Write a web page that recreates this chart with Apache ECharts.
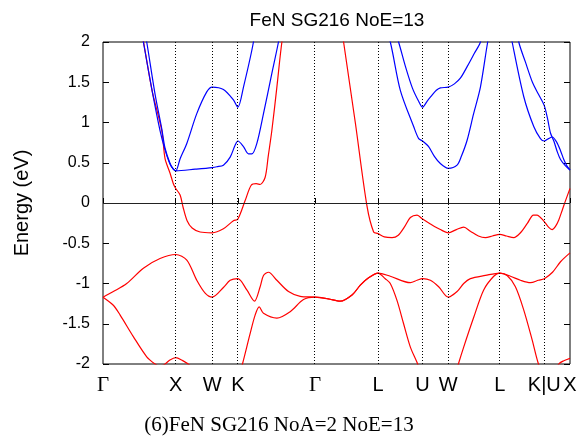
<!DOCTYPE html>
<html>
<head>
<meta charset="utf-8">
<script src="https://cdn.jsdelivr.net/npm/echarts@6/dist/echarts.min.js"></script>
<style>
  html, body { margin: 0; padding: 0; background: #fff; }
  #chart { width: 580px; height: 438px; }
</style>
</head>
<body>
<div id="chart"></div>
<script>
// high-symmetry points along the k-path
var kPos = [0, 1, 1.5, 1.8536, 2.9142, 3.7802, 4.3926, 4.7462, 5.4533, 6.0657, 6.4193];
var kLabels = ['Γ', 'X', 'W', 'K', 'Γ', 'L', 'U', 'W', 'L', 'K|U', 'X'];
var yTicks = [-2, -1.5, -1, -0.5, 0, 0.5, 1, 1.5, 2];

// bands, [k, E(eV)]
var band1 = [[0,-1.17],[0.142,-1.27],[0.234,-1.39],[0.417,-1.66],[0.601,-1.91],[0.716,-2.0],[0.78,-2.03],[0.853,-2.0],[0.92,-1.95],[1,-1.92],[1.08,-1.95],[1.197,-2.02],[1.335,-2.2],[1.5,-2.28],[1.748,-2.3],[1.8536,-2.2],[1.917,-2.0],[2.023,-1.62],[2.092,-1.39],[2.147,-1.29],[2.206,-1.37],[2.39,-1.43],[2.573,-1.35],[2.756,-1.2],[2.9142,-1.17],
  [3.096,-1.19],[3.261,-1.22],[3.427,-1.14],[3.537,-1.02],[3.651,-0.93],[3.7802,-0.87],[3.88,-0.94],[3.949,-1.0],[4.041,-1.21],[4.132,-1.5],[4.225,-1.79],[4.325,-2.0],[4.3926,-2.2],[4.5,-2.3],[4.7462,-2.35],[4.82,-2.2],[4.885,-2.0],[4.958,-1.79],[5.096,-1.42],[5.233,-1.08],[5.371,-0.91],[5.4533,-0.87],[5.555,-0.9],[5.669,-1.04],[5.784,-1.33],[5.899,-1.7],[5.986,-2.0],[6.0657,-2.15],[6.16,-2.18],[6.265,-2.0],[6.334,-1.96],[6.4193,-1.93]];
var band2 = [[0,-1.17],[0.142,-1.1],[0.326,-1.0],[0.555,-0.81],[0.784,-0.69],[1,-0.64],[1.152,-0.71],[1.289,-0.96],[1.404,-1.12],[1.5,-1.17],[1.655,-1.05],[1.748,-0.96],[1.8536,-0.94],[1.977,-1.08],[2.082,-1.22],[2.16,-1.04],[2.206,-0.9],[2.275,-0.86],[2.39,-0.96],[2.55,-1.1],[2.711,-1.16],[2.9142,-1.17],
  [3.096,-1.19],[3.261,-1.22],[3.427,-1.14],[3.537,-1.02],[3.651,-0.93],[3.7802,-0.87],[3.949,-0.91],[4.225,-0.99],[4.317,-0.96],[4.3926,-0.94],[4.5,-0.96],[4.614,-1.04],[4.7462,-1.17],[4.867,-1.1],[4.958,-1.0],[5.05,-0.94],[5.257,-0.9],[5.4533,-0.87],[5.601,-0.91],[5.738,-0.96],[5.876,-0.99],[5.986,-0.96],[6.0657,-0.94],[6.179,-0.86],[6.289,-0.73],[6.4193,-0.62]];
var band3 = [[0,4.2],[0.303,3.2],[0.557,2.0],[0.674,1.4],[0.808,0.9],[0.853,0.55],[0.922,0.37],[0.967,0.24],[1,0.18],[1.06,0.1],[1.1,-0.05],[1.156,-0.22],[1.225,-0.31],[1.335,-0.36],[1.5,-0.37],[1.655,-0.32],[1.793,-0.22],[1.8536,-0.2],[1.954,0.03],[2.037,0.22],[2.105,0.24],[2.16,0.23],[2.229,0.32],[2.271,0.58],[2.321,0.9],[2.39,1.44],[2.459,2.0],[2.683,3.4],[2.9142,4.0],[3.124,3.2],[3.307,2.0],[3.468,1.0],[3.629,-0.04],[3.72,-0.36],[3.7802,-0.38],[3.867,-0.42],[3.973,-0.43],[4.059,-0.4],[4.142,-0.3],[4.225,-0.18],[4.317,-0.15],[4.3926,-0.2],[4.5,-0.26],[4.637,-0.33],[4.7462,-0.37],[4.857,-0.33],[4.958,-0.3],[5.05,-0.35],[5.16,-0.41],[5.257,-0.43],[5.353,-0.41],[5.4533,-0.39],[5.546,-0.41],[5.646,-0.43],[5.738,-0.37],[5.835,-0.25],[5.917,-0.15],[5.968,-0.15],[6.013,-0.18],[6.0657,-0.23],[6.124,-0.3],[6.174,-0.33],[6.22,-0.29],[6.265,-0.21],[6.316,-0.08],[6.358,0.03],[6.4193,0.18]];
var band4 = [[0,4.6],[0.372,3.2],[0.601,2.0],[0.716,1.35],[0.808,0.92],[0.853,0.68],[0.922,0.49],[0.967,0.42],[1,0.4],[1.266,0.42],[1.5,0.44],[1.565,0.45],[1.655,0.47],[1.748,0.57],[1.817,0.72],[1.8536,0.77],[1.931,0.7],[2.0,0.61],[2.046,0.61],[2.115,0.74],[2.206,1.11],[2.321,1.61],[2.412,2.0],[2.6,2.9],[2.9142,3.6],[3.33,3.1],[3.7802,2.5],[3.949,2.0],[4.087,1.4],[4.27,0.95],[4.339,0.8],[4.3926,0.77],[4.476,0.7],[4.555,0.58],[4.637,0.49],[4.7462,0.43],[4.867,0.47],[4.926,0.58],[5.005,0.78],[5.092,1.1],[5.188,1.44],[5.288,2.0],[5.4533,2.8],[5.624,2.0],[5.784,1.32],[5.921,0.95],[6.013,0.8],[6.0657,0.77],[6.124,0.8],[6.174,0.82],[6.234,0.76],[6.289,0.65],[6.334,0.54],[6.378,0.46],[6.4193,0.41]];
var band5 = [[0,4.8],[0.372,2.95],[0.555,2.0],[0.674,1.4],[0.784,0.9],[0.853,0.66],[0.922,0.48],[0.967,0.42],[1,0.4],[1.06,0.55],[1.152,0.74],[1.289,1.11],[1.426,1.38],[1.5,1.44],[1.655,1.41],[1.793,1.28],[1.8536,1.19],[1.931,1.44],[2.068,2.0],[2.3,3.3],[2.9142,4.6],[3.537,3.4],[3.7802,2.8],[4.063,2.0],[4.156,1.7],[4.252,1.43],[4.335,1.27],[4.3926,1.19],[4.459,1.27],[4.523,1.34],[4.582,1.4],[4.637,1.43],[4.7462,1.44],[4.83,1.48],[4.912,1.55],[5.009,1.7],[5.105,1.86],[5.188,2.0],[5.4533,2.9],[5.587,2.6],[5.715,2.0],[5.807,1.75],[5.903,1.5],[5.986,1.35],[6.0657,1.21],[6.11,1.05],[6.151,0.87],[6.197,0.77],[6.243,0.64],[6.289,0.54],[6.358,0.46],[6.4193,0.41]];

var valenceBands = [band1, band2, band3];
var conductionBands = [band4, band5];

var chart = echarts.init(document.getElementById('chart'), null, { renderer: 'canvas' });

function kLabel(v) {
  for (var i = 0; i < kPos.length; i++) {
    if (Math.abs(kPos[i] - v) < 1e-6) {
      return kLabels[i] === 'Γ' ? '{g|Γ}' : '{s|' + kLabels[i] + '}';
    }
  }
  return '';
}

var series = [];
valenceBands.forEach(function (b) {
  series.push({ type: 'line', data: b, color: '#ff0000' });
});
conductionBands.forEach(function (b) {
  series.push({ type: 'line', data: b, color: '#0000ff' });
});
series.forEach(function (s) {
  s.showSymbol = false;
  s.smooth = 0.3;
  s.clip = true;
  s.silent = true;
  s.lineStyle = { width: 1.2 };
});

// dotted k-point lines and the zero line
series.unshift({
  type: 'line',
  data: [],
  silent: true,
  markLine: {
    silent: true,
    symbol: ['none', 'none'],
    label: { show: false },
    animation: false,
    data: kPos.slice(1, kPos.length - 1).map(function (v) {
      return { xAxis: v, lineStyle: { color: '#000', width: 1, type: [1, 2] } };
    }).concat([{ yAxis: 0, lineStyle: { color: '#222', width: 1, type: 'solid' } }])
  }
});

var option = {
  animation: false,
  backgroundColor: '#fff',
  grid: {
    left: 103, right: 10, top: 42, bottom: 74,
    show: true, borderColor: '#000', borderWidth: 1, backgroundColor: 'transparent'
  },
  graphic: [
    { type: 'text', x: 337, y: 21, style: { text: 'FeN SG216 NoE=13', textAlign: 'center', textVerticalAlign: 'middle', fontFamily: 'Liberation Sans', fontSize: 19, fill: '#000' } },
    { type: 'text', x: 279, y: 425, style: { text: '(6)FeN SG216 NoA=2 NoE=13', textAlign: 'center', textVerticalAlign: 'middle', fontFamily: 'Liberation Serif', fontSize: 21, fill: '#000' } }
  ],
  xAxis: {
    type: 'value',
    min: 0,
    max: kPos[kPos.length - 1],
    axisLine: { show: false },
    splitLine: { show: false },
    axisTick: { show: true, inside: true, length: 5, customValues: kPos, lineStyle: { color: '#000' } },
    axisLabel: {
      customValues: kPos,
      formatter: kLabel,
      margin: 11,
      rich: {
        g: { fontFamily: 'Liberation Serif', fontSize: 21, color: '#000' },
        s: { fontFamily: 'Liberation Sans', fontSize: 20, color: '#000' }
      }
    }
  },
  yAxis: [{
    type: 'value',
    min: -2, max: 2, interval: 0.5,
    name: 'Energy (eV)',
    nameLocation: 'middle',
    nameGap: 71,
    nameTextStyle: { fontFamily: 'Liberation Sans', fontSize: 20, color: '#000' },
    axisLine: { show: false },
    splitLine: { show: false },
    axisTick: { show: true, inside: true, length: 6, lineStyle: { color: '#000' } },
    axisLabel: {
      customValues: yTicks,
      fontFamily: 'Liberation Sans', fontSize: 16, color: '#000', margin: 13
    }
  }, {
    type: 'value',
    position: 'right',
    min: -2, max: 2, interval: 0.5,
    axisLine: { show: false },
    splitLine: { show: false },
    axisTick: { show: true, inside: true, length: 6, lineStyle: { color: '#000' } },
    axisLabel: { show: false }
  }],
  series: series
};

chart.setOption(option);
</script>
</body>
</html>
